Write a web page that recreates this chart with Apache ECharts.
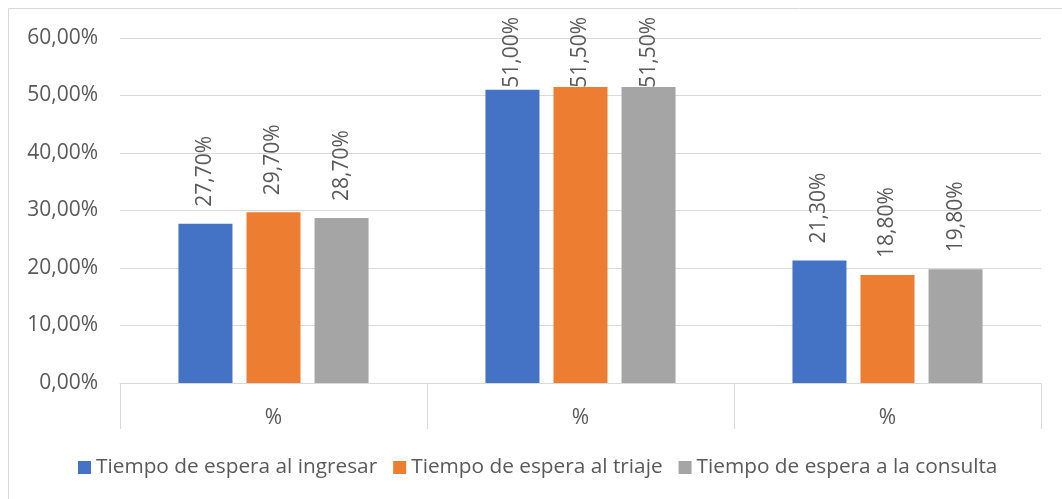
<!DOCTYPE html>
<html>
<head>
<meta charset="utf-8">
<script src="https://cdn.jsdelivr.net/npm/echarts@6/dist/echarts.min.js"></script>
<style>
  html, body { margin: 0; padding: 0; background: #ffffff; }
  #chart { width: 1062px; height: 499px; }
</style>
</head>
<body>
<div id="chart"></div>
<script>
// Categories and series values (percent)
const categories = ['%', '%', '%'];
const seriesNames = [
  'Tiempo de espera al ingresar',
  'Tiempo de espera al triaje',
  'Tiempo de espera a la consulta'
];
const ingresar = [27.7, 51.0, 21.3];
const triaje = [29.7, 51.5, 18.8];
const consulta = [28.7, 51.5, 19.8];
const yTicks = [0, 10, 20, 30, 40, 50, 60];

const colors = ['#4472C4', '#ED7D31', '#A5A5A5'];
const textColor = '#595959';
const lineColor = '#D9D9D9';
const fontFamily = '"Open Sans", "Noto Sans", sans-serif';

const fmt = v => v.toFixed(2).replace('.', ',') + '%';

// Keep rotated value labels inside the chart frame
const LABEL_TOP_LIMIT = 17;

function makeSeries(name, values, color) {
  return {
    name: name,
    type: 'bar',
    data: values,
    barWidth: 54,
    barGap: '26%',
    itemStyle: { color: color },
    label: {
      show: true,
      position: 'top',
      rotate: 90,
      align: 'left',
      verticalAlign: 'middle',
      distance: 17,
      color: textColor,
      fontFamily: fontFamily,
      fontSize: 21,
      formatter: p => fmt(p.value)
    },
    labelLayout: function (params) {
      const r = params.labelRect;
      if (r.y < LABEL_TOP_LIMIT) {
        return { x: r.x + r.width / 2, y: LABEL_TOP_LIMIT + r.height };
      }
      return {};
    }
  };
}

const chart = echarts.init(document.getElementById('chart'), null, { renderer: 'canvas' });

chart.setOption({
  animation: false,
  backgroundColor: '#ffffff',
  textStyle: { fontFamily: fontFamily },
  graphic: [{
    type: 'rect',
    shape: { x: 8.5, y: 8.5, width: 1200, height: 600 },
    style: { fill: null, stroke: lineColor, lineWidth: 1 },
    silent: true,
    z: -10
  }],
  grid: { left: 120, right: 21, top: 38, bottom: 116 },
  legend: {
    bottom: 16,
    left: 73,
    icon: 'rect',
    itemWidth: 13,
    itemHeight: 13,
    itemGap: 16,
    textStyle: { color: textColor, fontSize: 20.8, fontFamily: fontFamily },
    data: seriesNames
  },
  xAxis: {
    type: 'category',
    data: categories,
    axisLine: { show: true, lineStyle: { color: lineColor, width: 1 } },
    axisTick: { show: true, length: 46, lineStyle: { color: lineColor, width: 1 } },
    axisLabel: { color: textColor, fontSize: 21, margin: 25, fontFamily: fontFamily },
    splitLine: { show: false }
  },
  yAxis: {
    type: 'value',
    min: yTicks[0],
    max: yTicks[yTicks.length - 1],
    interval: yTicks[1] - yTicks[0],
    axisLine: { show: false },
    axisTick: { show: false },
    axisLabel: { color: textColor, fontSize: 21, margin: 22, fontFamily: fontFamily, formatter: v => fmt(v) },
    splitLine: { lineStyle: { color: lineColor, width: 1 } }
  },
  series: [
    makeSeries(seriesNames[0], ingresar, colors[0]),
    makeSeries(seriesNames[1], triaje, colors[1]),
    makeSeries(seriesNames[2], consulta, colors[2])
  ]
});
</script>
</body>
</html>
